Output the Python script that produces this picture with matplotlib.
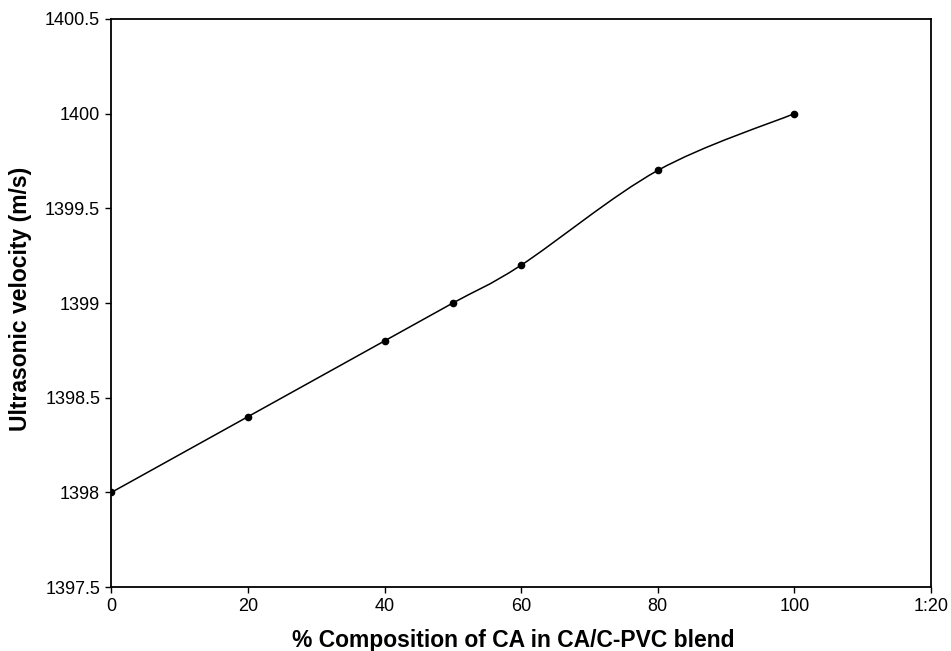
import matplotlib
matplotlib.use("Agg")
import matplotlib.pyplot as plt
from matplotlib.path import Path
from matplotlib.patches import PathPatch
import numpy as np

plt.rcParams['font.family'] = ['Liberation Sans', 'DejaVu Sans']

composition = [0, 20, 40, 50, 60, 80, 100]
velocity = [1398.0, 1398.4, 1398.8, 1399.0, 1399.2, 1399.7, 1400.0]
x_ticks = [0, 20, 40, 60, 80, 100, 120]
x_tick_labels = ['0', '20', '40', '60', '80', '100', '1:20']
y_ticks = [1397.5, 1398, 1398.5, 1399, 1399.5, 1400, 1400.5]
y_tick_labels = ['1397.5', '1398', '1398.5', '1399', '1399.5', '1400', '1400.5']

fig = plt.figure(figsize=(9.51, 6.51), dpi=100)
ax = fig.add_axes([0.117, 0.098, 0.862, 0.873])

# Smoothed line (Excel-style Catmull-Rom Bezier) built from data points
pts = np.column_stack([composition, velocity]).astype(float)
verts = [tuple(pts[0])]
codes = [Path.MOVETO]
n = len(pts)
for i in range(n - 1):
    p0 = pts[i - 1] if i > 0 else pts[i]
    p1 = pts[i]
    p2 = pts[i + 1]
    p3 = pts[i + 2] if i + 2 < n else pts[i + 1]
    c1 = p1 + (p2 - p0) / 6.0
    c2 = p2 - (p3 - p1) / 6.0
    verts += [tuple(c1), tuple(c2), tuple(p2)]
    codes += [Path.CURVE4] * 3
ax.add_patch(PathPatch(Path(verts, codes), facecolor='none', edgecolor='black', lw=1.1))
ax.plot(composition, velocity, linestyle='none', marker='o', markersize=4.5, color='black')

ax.set_xlim(0, 120)
ax.set_ylim(1397.5, 1400.5)
ax.set_xticks(x_ticks)
ax.set_xticklabels(x_tick_labels)
ax.set_yticks(y_ticks)
ax.set_yticklabels(y_tick_labels)
ax.tick_params(direction='out', length=4, width=1, labelsize=13, colors='black', pad=4)
for s in ax.spines.values():
    s.set_linewidth(1.3)
    s.set_color('black')

ax.set_xlabel('% Composition of CA in CA/C-PVC blend', fontsize=16.5, fontweight='bold')
ax.set_ylabel('Ultrasonic velocity (m/s)', fontsize=16.5, fontweight='bold')
ax.xaxis.label.set_va('center')
ax.yaxis.label.set_va('center')
ax.xaxis.set_label_coords(0.49, -0.093)
ax.yaxis.set_label_coords(-0.111, 0.508)

fig.savefig('out.png', dpi=100)
